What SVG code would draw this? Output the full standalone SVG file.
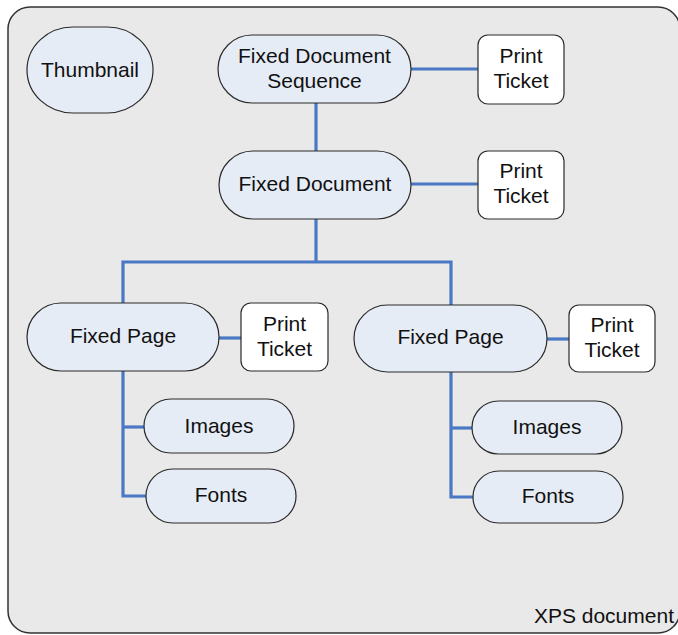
<svg xmlns="http://www.w3.org/2000/svg" width="678" height="635" viewBox="0 0 678 635">
<style>
.node{fill:#e6ecf6;stroke:#2a2a2a;stroke-width:1.2}
.ticket{fill:#ffffff;stroke:#2a2a2a;stroke-width:1.2}
.lbl{font-family:"Liberation Sans",Arial,sans-serif;font-size:21px;fill:#111;text-anchor:middle}
.con{fill:none;stroke:#4a78c4;stroke-width:3.2}
</style>
<rect x="0" y="0" width="678" height="635" fill="#ffffff"/>
<g id="container">
<rect x="8" y="7" width="672" height="626" rx="22" ry="22" fill="#e9e9e9" stroke="#333" stroke-width="1.5"/>
<text class="lbl" x="674" y="623" style="text-anchor:end">XPS document</text>
</g>
<g id="connectors">
<path class="con" d="M411 69H478"/>
<path class="con" d="M316 103V151"/>
<path class="con" d="M411 184H478"/>
<path class="con" d="M316 219V262"/>
<path class="con" d="M123 304V262H451V305"/>
<path class="con" d="M219 338H241"/>
<path class="con" d="M547 339H569"/>
<path class="con" d="M123 371V496H146"/>
<path class="con" d="M123 427H144"/>
<path class="con" d="M451 372V497H473"/>
<path class="con" d="M451 428H472"/>
</g>
<g id="thumbnail">
<rect class="node" x="27" y="27" width="126" height="86" rx="46" ry="43"/>
<text class="lbl" x="90" y="77">Thumbnail</text>
</g>
<g id="fds">
<rect class="node" x="218" y="35" width="193" height="68" rx="34" ry="34"/>
<text class="lbl" x="314.5" y="63">Fixed Document</text>
<text class="lbl" x="314.5" y="88">Sequence</text>
</g>
<g id="pt1">
<rect class="ticket" x="478" y="35" width="86" height="69" rx="10" ry="10"/>
<text class="lbl" x="521" y="63">Print</text>
<text class="lbl" x="521" y="88">Ticket</text>
</g>
<g id="fd">
<rect class="node" x="219" y="151" width="192" height="68" rx="34" ry="34"/>
<text class="lbl" x="315" y="191">Fixed Document</text>
</g>
<g id="pt2">
<rect class="ticket" x="478" y="151" width="86" height="68" rx="10" ry="10"/>
<text class="lbl" x="521" y="178">Print</text>
<text class="lbl" x="521" y="203">Ticket</text>
</g>
<g id="fp1">
<rect class="node" x="27" y="303" width="192" height="68" rx="34" ry="34"/>
<text class="lbl" x="123" y="343">Fixed Page</text>
</g>
<g id="pt3">
<rect class="ticket" x="241" y="303" width="87" height="68" rx="10" ry="10"/>
<text class="lbl" x="284.5" y="331">Print</text>
<text class="lbl" x="284.5" y="356">Ticket</text>
</g>
<g id="fp2">
<rect class="node" x="354" y="305" width="193" height="67" rx="33.5" ry="33.5"/>
<text class="lbl" x="450.5" y="344">Fixed Page</text>
</g>
<g id="pt4">
<rect class="ticket" x="569" y="305" width="86" height="67" rx="10" ry="10"/>
<text class="lbl" x="612" y="332">Print</text>
<text class="lbl" x="612" y="357">Ticket</text>
</g>
<g id="images1">
<rect class="node" x="144" y="399" width="150" height="54" rx="27" ry="27"/>
<text class="lbl" x="219" y="433">Images</text>
</g>
<g id="fonts1">
<rect class="node" x="146" y="469" width="150" height="54" rx="27" ry="27"/>
<text class="lbl" x="221" y="502">Fonts</text>
</g>
<g id="images2">
<rect class="node" x="472" y="401" width="150" height="53" rx="26.5" ry="26.5"/>
<text class="lbl" x="547" y="434">Images</text>
</g>
<g id="fonts2">
<rect class="node" x="473" y="471" width="150" height="52" rx="26" ry="26"/>
<text class="lbl" x="548" y="503">Fonts</text>
</g>
</svg>
